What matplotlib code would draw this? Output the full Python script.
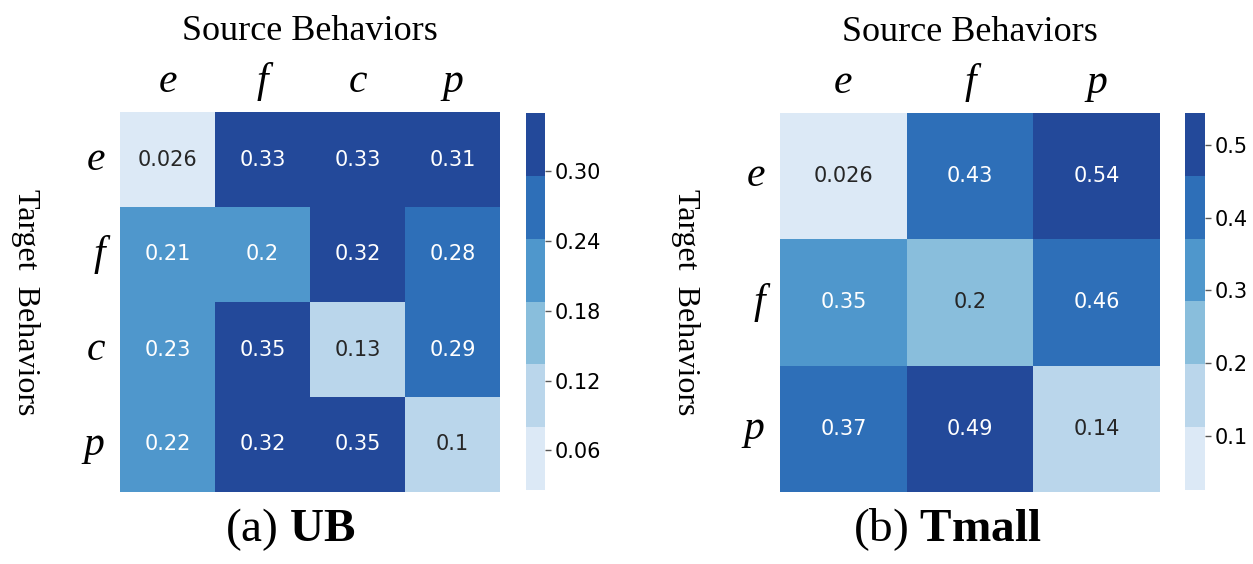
import numpy as np
import matplotlib
matplotlib.use("Agg")
import matplotlib.pyplot as plt
import seaborn as sns
from matplotlib.colors import ListedColormap

# ---- data ----
ub_labels = ["e", "f", "c", "p"]
ub_values = [
    [0.026, 0.33, 0.33, 0.31],
    [0.21, 0.20, 0.32, 0.28],
    [0.23, 0.35, 0.13, 0.29],
    [0.22, 0.32, 0.35, 0.10],
]
ub_cbar_ticks = [0.06, 0.12, 0.18, 0.24, 0.30]

tmall_labels = ["e", "f", "p"]
tmall_values = [
    [0.0257, 0.43, 0.544],
    [0.35, 0.20, 0.456],
    [0.372, 0.49, 0.14],
]
tmall_cbar_ticks = [0.1, 0.2, 0.3, 0.4, 0.5]

palette = ["#dce9f6", "#bad6eb", "#89bedc", "#4f97cc", "#2e6fb8", "#23499a"]

plt.rcParams["mathtext.fontset"] = "custom"
plt.rcParams["mathtext.rm"] = "Liberation Serif"
plt.rcParams["mathtext.bf"] = "Liberation Serif:bold"
plt.rcParams["mathtext.it"] = "Liberation Serif:italic"

W, H = 1253, 564
fig = plt.figure(figsize=(W / 100, H / 100), dpi=100)


def rect(x, y, w, h):
    return [x / W, 1 - (y + h) / H, w / W, h / H]


cmap = ListedColormap(palette)


def draw(ax, cax, values, labels, ticks, tick_fmt):
    data = np.array(values)
    sns.heatmap(data, ax=ax, cbar_ax=cax, cmap=cmap, annot=True, fmt=".2g",
                annot_kws={"size": 15}, square=False,
                vmin=data.min(), vmax=data.max())
    ax.xaxis.tick_top()
    ax.set_xticks(np.arange(len(labels)) + 0.5)
    ax.set_yticks(np.arange(len(labels)) + 0.5)
    ax.set_xticklabels(labels, fontfamily="Liberation Serif", fontstyle="italic", fontsize=30)
    ax.set_yticklabels(labels, fontfamily="Liberation Serif", fontstyle="italic", fontsize=30,
                       rotation=0, va="center")
    ax.tick_params(axis="both", length=0)
    ax.tick_params(axis="x", pad=8)
    ax.tick_params(axis="y", pad=11)
    ax.xaxis.set_label_position("top")
    ax.set_xlabel("Source Behaviors", fontfamily="Liberation Serif", fontsize=26, labelpad=16)
    ax.set_ylabel("Target  Behaviors", fontfamily="Liberation Serif", fontsize=23,
                  rotation=-90, labelpad=42, va="center")
    cax.set_yticks(ticks)
    cax.set_yticklabels([tick_fmt.format(t) for t in ticks], fontsize=15)
    cax.tick_params(length=4, width=1, color="#555555", pad=3)
    for s in cax.spines.values():
        s.set_visible(False)


ax1 = fig.add_axes(rect(120, 112, 380, 380))
cax1 = fig.add_axes(rect(526, 113, 19, 377))
draw(ax1, cax1, ub_values, ub_labels, ub_cbar_ticks, "{:.2f}")

ax2 = fig.add_axes(rect(780, 113, 380, 379))
cax2 = fig.add_axes(rect(1185, 113, 20, 377))
draw(ax2, cax2, tmall_values, tmall_labels, tmall_cbar_ticks, "{:.1f}")

fig.text(290 / W, 1 - 530 / H, r"(a) $\mathbf{UB}$", ha="center", va="center",
         fontfamily="Liberation Serif", fontsize=34)
fig.text(947 / W, 1 - 530 / H, r"(b) $\mathbf{Tmall}$", ha="center", va="center",
         fontfamily="Liberation Serif", fontsize=34)

fig.savefig("out.png", dpi=100)
